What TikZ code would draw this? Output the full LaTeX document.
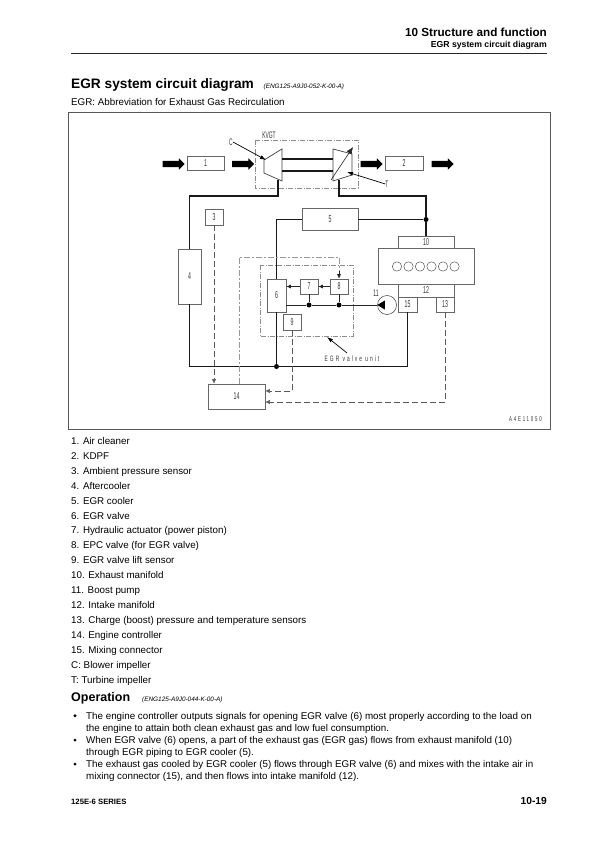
\documentclass[tikz,border=0pt]{standalone}
\usepackage{fontspec}
\setmainfont{Liberation Sans}
\newfontfamily\cadfont[FakeStretch=0.52]{Liberation Sans}
\newfontfamily\cadwide[FakeStretch=0.62,LetterSpace=26]{Liberation Sans}
\usetikzlibrary{arrows.meta,calc,shapes.arrows}

\newcommand{\txt}[2]{\fontsize{#1}{#2}\selectfont}

\begin{document}
\begin{tikzpicture}[x=1pt,y=-1pt,
    part/.style={draw=black!60,line width=0.6pt,inner sep=0pt,font=\cadfont\txt{10}{10},text=black!80},
    pipe/.style={line width=1.9pt,black!90},
    thin line/.style={line width=0.6pt,black!85},
    signal/.style={line width=0.45pt,black!65,dash pattern=on 6pt off 3pt},
    tip/.style={-{Latex[length=4.5pt,width=4pt]}},
    unit/.style={line width=0.4pt,black!45,dash pattern=on 5pt off 1.5pt on 1pt off 1.5pt},
    dot/.style={circle,fill=black,inner sep=0pt,minimum size=5pt},
    flow/.style={single arrow,fill=black,inner xsep=0pt,inner ysep=3pt,minimum height=22pt,single arrow head extend=2.6pt,single arrow head indent=0pt,shape border rotate=0},
    cad/.style={font=\cadfont\txt{9.5}{10},text=black!80,inner sep=0pt},
    list/.style={anchor=base west,inner sep=0pt,font=\txt{9.8}{11}},
    ref/.style={anchor=base west,inner sep=0pt,font=\itshape\txt{6.4}{7}}]
    \useasboundingbox (0,0) rectangle (596,842);
    \fill[white] (0,0) rectangle (596,842);
    % page head
    \node[anchor=base east,inner sep=0pt,font=\bfseries\txt{11.7}{13}] (head1) at (547,37) {10 Structure and function};
    \node[anchor=base east,inner sep=0pt,font=\bfseries\txt{8.7}{10}] (head2) at (547,48) {EGR system circuit diagram};
    \draw[line width=1.4pt,black!85] (71,53.5)--(547,53.5);
    \node[anchor=base west,inner sep=0pt,font=\bfseries\txt{13.7}{16}] (title) at (71,88.7) {EGR system circuit diagram};
    \node[ref] (titleref) at (263.5,88.7) {(ENG125-A9J0-052-K-00-A)};
    \node[list] (abbr) at (71,106) {EGR: Abbreviation for Exhaust Gas Recirculation};
    \draw[line width=0.8pt,black!65] (68,112) rectangle (550,429);
    % turbocharger
    \draw[unit] (255,140) rectangle (358,188);
    \node[cad] (kvgt) at (269,135) {KVGT};
    \draw[line width=0.7pt,black!75] (264,160)--(282,149)--(282,181)--(264,173)--cycle;
    \draw[line width=0.7pt,black!75] (333,149)--(352,154)--(352,175)--(333,181)--cycle;
    \draw[pipe] (282,159)--(333,159);
    \draw[pipe] (282,171)--(333,171);
    \draw[thin line,-{Latex[length=7pt,width=6pt]}] (331,180)--(353,147);
    \node[cad] (c) at (231,142) {C};
    \coordinate (cend) at (266,160);
    \draw[line width=0.7pt,black,-{Latex[length=6pt,width=4pt]}] (c.east)--(cend);
    \node[cad] (t) at (387,184) {T};
    \coordinate (tend) at (347,172);
    \draw[line width=0.7pt,black,-{Latex[length=6pt,width=4pt]}] (t.west)--(tend);
    \coordinate (cout) at (278,180);
    \coordinate (tout) at (339,180);
    % boxes
    \node[part,minimum width=37pt,minimum height=14pt] (b1) at (205.5,163.5) {1};
    \node[part,minimum width=38pt,minimum height=14pt] (b2) at (404,163.5) {2};
    \node[part,minimum width=18pt,minimum height=16pt] (b3) at (214,217) {3};
    \node[part,minimum width=23pt,minimum height=55pt] (b4) at (189.5,276.5) {4};
    \node[part,minimum width=56pt,minimum height=22pt] (b5) at (330,219.5) {5};
    \node[part,minimum width=19pt,minimum height=33pt] (b6) at (276.5,295.5) {6};
    \node[part,minimum width=18pt,minimum height=15pt] (b7) at (309,286.5) {7};
    \node[part,minimum width=18pt,minimum height=15pt] (b8) at (339,286.5) {8};
    \node[part,minimum width=18pt,minimum height=16pt] (b9) at (292,322) {9};
    \node[part,minimum width=56pt,minimum height=12pt] (b10) at (426,242) {10};
    \node[part,minimum width=56pt,minimum height=13pt] (b12) at (426,290.5) {12};
    \node[part,minimum width=18pt,minimum height=15pt] (b13) at (445,304.5) {13};
    \node[part,minimum width=57pt,minimum height=25pt] (b14) at (236.5,396.5) {14};
    \node[part,minimum width=19pt,minimum height=15pt] (b15) at (407.5,304.5) {15};
    \node[part,minimum width=96pt,minimum height=36pt] (mani) at (426,266) {};
    \foreach \cx in {397,408.5,420,431.5,443,454.5}
        \draw[line width=0.45pt,black!70] (\cx,266.5) circle (4.7);
    % flow arrows
    \node[flow] (f1) at (172,164) {};
    \node[flow] (f2) at (241.5,164) {};
    \node[flow] (f3) at (370,164) {};
    \node[flow] (f4) at (441,164) {};
    % pipes
    \node[dot] (j1) at (426,219.5) {};
    \node[dot] (j2) at (276.5,366.5) {};
    \coordinate (c1) at ($(b4.north)+(0,-53)$);
    \coordinate (c2) at (b4.south |- j2);
    \coordinate (c3) at (b15.south |- j2);
    \draw[pipe] (cout)--(cout |- c1)--(c1)--(b4.north);
    \draw[pipe] (b4.south)--(c2)--(c3)--(b15.south);
    \draw[pipe] (tout)--(tout |- c1)--(c1 -| j1)--(j1)--(b10.north);
    \draw[pipe] (b5.east)--(j1);
    \draw[pipe] (b5.west)--(b6.north |- b5.west)--(b6.north);
    \draw[pipe] (b6.south)--(j2);
    % valve unit
    \draw[unit] (260,265) rectangle (353,336);
    \node[cad,font=\cadwide\txt{7.8}{9}] (unitname) at (352,359) {EGR valve unit};
    \coordinate (unitend) at (327,337);
    \draw[line width=0.7pt,black,-{Latex[length=6pt,width=4pt]}] (347,353)--(unitend);
    \node[dot] (j3) at (309,305) {};
    \node[dot] (j4) at (339,305) {};
    \node[circle,draw=black!75,line width=0.5pt,inner sep=0pt,minimum size=19pt] (pump) at (387,305) {};
    \fill[black] (pump.west)--++(7.5,-4.5)--++(0,9)--cycle;
    \node[cad] (n11) at (376,293) {11};
    \draw[thin line] (b6.east |- j3)--(j3)--(j4)--(pump.west);
    \draw[thin line] (b7.south)--(j3);
    \draw[thin line] (b8.south)--(j4);
    \draw[thin line,tip] (b7.west)--(b6.east |- b7.west);
    \draw[thin line,tip] (b8.west)--(b7.east);
    % signals
    \draw[signal,tip] (b3.south)--(b3.south |- b14.north);
    \coordinate (s1) at (292,391);
    \coordinate (s2) at (445,402);
    \draw[signal,tip] (b9.south)--(s1)--(b14.east |- s1);
    \draw[signal,tip] (b13.south)--(s2)--(b14.east |- s2);
    \coordinate (s3) at (239,257);
    \coordinate (s4) at (339,271);
    \draw[line width=0.8pt,black!40,dash pattern=on 6pt off 2pt on 2pt off 2pt] (s3 |- b14.north)--(s3)--(s3 -| s4)--(s4);
    \draw[thin line,tip] (s4)--(b8.north);
    \node[cad,font=\cadwide\txt{7}{9}] (code) at (525.5,419) {A4E11050};
    % list
    \node[list] (l1) at (71,444) {1. Air cleaner};
    \node[list] (l2) at (71,459) {2. KDPF};
    \node[list] (l3) at (71,474) {3. Ambient pressure sensor};
    \node[list] (l4) at (71,489) {4. Aftercooler};
    \node[list] (l5) at (71,504) {5. EGR cooler};
    \node[list] (l6) at (71,519) {6. EGR valve};
    \node[list] (l7) at (71,533.7) {7. Hydraulic actuator (power piston)};
    \node[list] (l8) at (71,548.7) {8. EPC valve (for EGR valve)};
    \node[list] (l9) at (71,563.6) {9. EGR valve lift sensor};
    \node[list] (l10) at (71,578.6) {10. Exhaust manifold};
    \node[list] (l11) at (71,593.5) {11. Boost pump};
    \node[list] (l12) at (71,608.5) {12. Intake manifold};
    \node[list] (l13) at (71,623.4) {13. Charge (boost) pressure and temperature sensors};
    \node[list] (l14) at (71,638.4) {14. Engine controller};
    \node[list] (l15) at (71,653.3) {15. Mixing connector};
    \node[list] (lc) at (71,668.3) {C: Blower impeller};
    \node[list] (lt) at (71,683.2) {T: Turbine impeller};
    % operation
    \node[anchor=base west,inner sep=0pt,font=\bfseries\txt{12.5}{13}] (oper) at (71,701.5) {Operation};
    \node[ref] (operref) at (142,701) {(ENG125-A9J0-044-K-00-A)};
    \foreach \yy in {719,743.3,767.3}
        \fill (75,\yy-3.2) circle (1.6);
    \node[list] (p1) at (86,719) {The engine controller outputs signals for opening EGR valve (6) most properly according to the load on};
    \node[list] (p2) at (86,731) {the engine to attain both clean exhaust gas and low fuel consumption.};
    \node[list] (p3) at (86,743.3) {When EGR valve (6) opens, a part of the exhaust gas (EGR gas) flows from exhaust manifold (10)};
    \node[list] (p4) at (86,755) {through EGR piping to EGR cooler (5).};
    \node[list] (p5) at (86,767.3) {The exhaust gas cooled by EGR cooler (5) flows through EGR valve (6) and mixes with the intake air in};
    \node[list] (p6) at (86,779.3) {mixing connector (15), and then flows into intake manifold (12).};
    % foot
    \node[anchor=base west,inner sep=0pt,font=\bfseries\txt{7.7}{9}] (foot1) at (71,804) {125E-6 SERIES};
    \node[anchor=base east,inner sep=0pt,font=\bfseries\txt{10.2}{12}] (foot2) at (547,804) {10-19};
\end{tikzpicture}
\end{document}
